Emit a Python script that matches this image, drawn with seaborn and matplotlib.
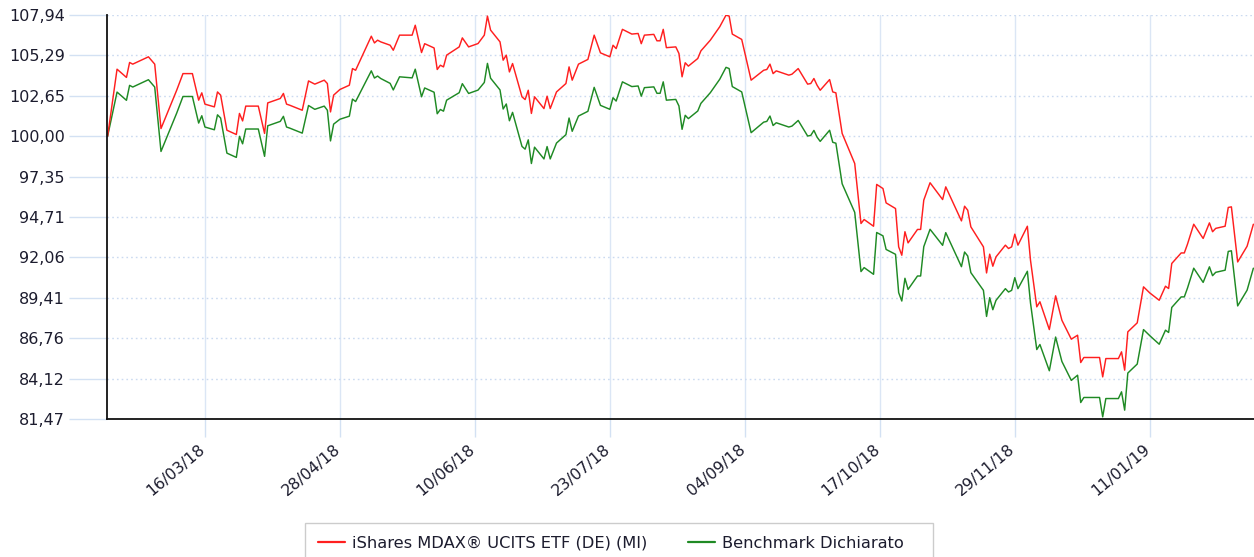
import matplotlib
matplotlib.use("Agg")
import matplotlib.pyplot as plt
import matplotlib.transforms as mtransforms
from matplotlib.lines import Line2D
from matplotlib.patches import Rectangle
import seaborn as sns
import pandas as pd

dates = [
    "2018-02-13", "2018-02-16", "2018-02-19", "2018-02-20", "2018-02-21", "2018-02-26", "2018-02-28",
    "2018-03-02", "2018-03-07", "2018-03-09", "2018-03-12", "2018-03-14", "2018-03-15", "2018-03-16",
    "2018-03-19", "2018-03-20", "2018-03-21", "2018-03-23", "2018-03-26", "2018-03-27", "2018-03-28",
    "2018-03-29", "2018-04-02", "2018-04-04", "2018-04-05", "2018-04-09", "2018-04-10", "2018-04-11",
    "2018-04-12", "2018-04-16", "2018-04-18", "2018-04-20", "2018-04-23", "2018-04-24", "2018-04-25",
    "2018-04-26", "2018-04-28", "2018-05-01", "2018-05-02", "2018-05-03", "2018-05-08", "2018-05-09",
    "2018-05-10", "2018-05-11", "2018-05-14", "2018-05-15", "2018-05-17", "2018-05-21", "2018-05-22",
    "2018-05-24", "2018-05-25", "2018-05-28", "2018-05-29", "2018-05-30", "2018-05-31", "2018-06-01",
    "2018-06-05", "2018-06-06", "2018-06-08", "2018-06-11", "2018-06-13", "2018-06-14", "2018-06-15",
    "2018-06-18", "2018-06-19", "2018-06-20", "2018-06-21", "2018-06-22", "2018-06-25", "2018-06-26",
    "2018-06-27", "2018-06-28", "2018-06-29", "2018-07-02", "2018-07-03", "2018-07-04", "2018-07-06",
    "2018-07-09", "2018-07-10", "2018-07-11", "2018-07-13", "2018-07-16", "2018-07-18", "2018-07-20",
    "2018-07-23", "2018-07-24", "2018-07-25", "2018-07-27", "2018-07-30", "2018-08-01", "2018-08-02",
    "2018-08-03", "2018-08-06", "2018-08-07", "2018-08-08", "2018-08-09", "2018-08-10", "2018-08-13",
    "2018-08-14", "2018-08-15", "2018-08-16", "2018-08-17", "2018-08-20", "2018-08-21", "2018-08-24",
    "2018-08-27", "2018-08-29", "2018-08-30", "2018-08-31", "2018-09-03", "2018-09-06", "2018-09-10",
    "2018-09-11", "2018-09-12", "2018-09-13", "2018-09-14", "2018-09-18", "2018-09-19", "2018-09-21",
    "2018-09-24", "2018-09-25", "2018-09-26", "2018-09-27", "2018-09-28", "2018-10-01", "2018-10-02",
    "2018-10-03", "2018-10-05", "2018-10-09", "2018-10-11", "2018-10-12", "2018-10-15", "2018-10-16",
    "2018-10-18", "2018-10-19", "2018-10-22", "2018-10-23", "2018-10-24", "2018-10-25", "2018-10-26",
    "2018-10-29", "2018-10-30", "2018-10-31", "2018-11-02", "2018-11-06", "2018-11-07", "2018-11-12",
    "2018-11-13", "2018-11-14", "2018-11-15", "2018-11-19", "2018-11-20", "2018-11-21", "2018-11-22",
    "2018-11-23", "2018-11-26", "2018-11-27", "2018-11-28", "2018-11-29", "2018-11-30", "2018-12-03",
    "2018-12-04", "2018-12-06", "2018-12-07", "2018-12-10", "2018-12-12", "2018-12-14", "2018-12-17",
    "2018-12-19", "2018-12-20", "2018-12-21", "2018-12-26", "2018-12-27", "2018-12-28", "2019-01-01",
    "2019-01-02", "2019-01-03", "2019-01-04", "2019-01-07", "2019-01-09", "2019-01-11", "2019-01-14",
    "2019-01-16", "2019-01-17", "2019-01-18", "2019-01-21", "2019-01-22", "2019-01-23", "2019-01-25",
    "2019-01-28", "2019-01-30", "2019-01-31", "2019-02-01", "2019-02-04", "2019-02-05", "2019-02-06",
    "2019-02-08", "2019-02-11", "2019-02-13",
]

etf = [
    100.00, 104.39, 103.85, 104.83, 104.72, 105.20, 104.72,
    100.50, 103.01, 104.10, 104.10, 102.36, 102.84, 102.10,
    101.92, 102.90, 102.69, 100.39, 100.11, 101.49, 101.00,
    101.97, 101.97, 100.18, 102.18, 102.47, 102.80, 102.10,
    102.03, 101.70, 103.62, 103.41, 103.67, 103.45, 101.59,
    102.69, 103.06, 103.34, 104.43, 104.32, 106.55, 106.11,
    106.29, 106.18, 105.96, 105.63, 106.62, 106.62, 107.27,
    105.48, 106.06, 105.78, 104.37, 104.65, 104.54, 105.31,
    105.85, 106.44, 105.85, 106.07, 106.62, 107.87, 106.95,
    106.18, 104.98, 105.31, 104.21, 104.76, 102.58, 102.40,
    103.01, 101.49, 102.58, 101.81, 102.62, 101.81, 102.90,
    103.45, 104.54, 103.67, 104.72, 105.03, 106.62, 105.46,
    105.20, 105.96, 105.74, 107.00, 106.69, 106.73, 106.06,
    106.62, 106.67, 106.25, 106.25, 107.00, 105.80, 105.85,
    105.42, 103.89, 104.81, 104.59, 105.09, 105.59, 106.29,
    107.17, 107.93, 107.87, 106.69, 106.34, 103.67, 104.32,
    104.37, 104.72, 104.10, 104.28, 104.00, 104.06, 104.43,
    103.41, 103.45, 103.78, 103.34, 103.01, 103.71, 102.90,
    102.84, 100.18, 98.21, 94.28, 94.54, 94.10, 96.84,
    96.57, 95.63, 95.26, 92.75, 92.20, 93.74, 93.01,
    93.89, 93.89, 95.81, 96.95, 95.85, 96.68, 94.45,
    95.41, 95.15, 94.06, 92.75, 91.04, 92.27, 91.48,
    92.09, 92.86, 92.64, 92.75, 93.58, 92.86, 94.10,
    91.87, 88.82, 89.15, 87.33, 89.54, 87.94, 86.70,
    86.96, 85.17, 85.50, 85.50, 84.23, 85.43, 85.43,
    85.87, 84.67, 87.18, 87.77, 90.13, 89.73, 89.25,
    90.17, 90.02, 91.66, 92.35, 92.35, 92.92, 94.23,
    93.30, 94.32, 93.74, 93.96, 94.10, 95.33, 95.37,
    91.76, 92.79, 94.23,
]

benchmark = [
    100.00, 102.89, 102.35, 103.33, 103.22, 103.70, 103.22,
    99.00, 101.51, 102.60, 102.60, 100.86, 101.34, 100.60,
    100.42, 101.40, 101.19, 98.89, 98.61, 99.99, 99.50,
    100.47, 100.47, 98.68, 100.68, 100.97, 101.30, 100.60,
    100.53, 100.20, 102.01, 101.76, 101.97, 101.70, 99.69,
    100.79, 101.11, 101.31, 102.43, 102.27, 104.28, 103.81,
    103.94, 103.78, 103.46, 103.03, 103.89, 103.82, 104.39,
    102.58, 103.16, 102.88, 101.47, 101.75, 101.64, 102.36,
    102.85, 103.44, 102.80, 103.02, 103.52, 104.77, 103.80,
    103.03, 101.78, 102.11, 101.01, 101.56, 99.33, 99.15,
    99.76, 98.21, 99.28, 98.51, 99.32, 98.51, 99.55,
    100.10, 101.19, 100.32, 101.32, 101.63, 103.20, 102.02,
    101.76, 102.52, 102.30, 103.56, 103.25, 103.29, 102.62,
    103.18, 103.23, 102.81, 102.81, 103.56, 102.36, 102.41,
    101.98, 100.45, 101.37, 101.15, 101.65, 102.15, 102.85,
    103.73, 104.51, 104.43, 103.25, 102.90, 100.23, 100.92,
    100.97, 101.32, 100.70, 100.88, 100.60, 100.66, 101.03,
    100.01, 100.05, 100.38, 99.94, 99.66, 100.39, 99.60,
    99.54, 96.88, 95.01, 91.13, 91.39, 90.95, 93.69,
    93.47, 92.58, 92.26, 89.75, 89.20, 90.69, 89.96,
    90.84, 90.84, 92.76, 93.90, 92.85, 93.68, 91.45,
    92.41, 92.15, 91.06, 89.90, 88.19, 89.42, 88.63,
    89.24, 90.01, 89.79, 89.90, 90.73, 90.01, 91.15,
    89.07, 86.02, 86.35, 84.63, 86.84, 85.24, 84.00,
    84.34, 82.55, 82.88, 82.88, 81.61, 82.81, 82.81,
    83.25, 82.05, 84.48, 85.07, 87.33, 86.93, 86.37,
    87.29, 87.14, 88.78, 89.47, 89.47, 90.04, 91.35,
    90.42, 91.44, 90.86, 91.08, 91.22, 92.45, 92.49,
    88.88, 89.91, 91.35,
]

series_names = ["iShares MDAX® UCITS ETF (DE) (MI)", "Benchmark Dichiarato"]
series_colors = ["#ff1f1f", "#1f8a24"]

y_ticks = [81.47, 84.12, 86.76, 89.41, 92.06, 94.71, 97.35, 100.00, 102.65, 105.29, 107.94]
y_tick_labels = ["81,47", "84,12", "86,76", "89,41", "92,06", "94,71", "97,35",
                 "100,00", "102,65", "105,29", "107,94"]
x_tick_dates = ["2018-03-16", "2018-04-28", "2018-06-10", "2018-07-23",
                "2018-09-04", "2018-10-17", "2018-11-29", "2019-01-11"]
x_tick_labels = ["16/03/18", "28/04/18", "10/06/18", "23/07/18",
                 "04/09/18", "17/10/18", "29/11/18", "11/01/19"]

sns.set_theme(style="white")
plt.rcParams["font.family"] = ["DejaVu Sans"]

n = len(dates)
df = pd.DataFrame({
    "date": pd.to_datetime(dates + dates),
    "value": etf + benchmark,
    "series": [series_names[0]] * n + [series_names[1]] * n,
})

W, H = 1254, 557
fig = plt.figure(figsize=(W / 100, H / 100), dpi=100)
ax = fig.add_axes([107 / W, 1 - 419 / H, 1 - 107 / W, (419 - 15) / H])

sns.lineplot(data=df, x="date", y="value", hue="series",
             hue_order=series_names[::-1], palette=series_colors[::-1],
             estimator=None, linewidth=1.05, ax=ax, legend=False)

base = pd.Timestamp("2018-03-16")
ax.set_xlim(base + pd.Timedelta(days=-31.2), base + pd.Timedelta(days=334.2))
ax.set_ylim(81.47, 107.94)
ax.set_xlabel("")
ax.set_ylabel("")

ax.set_yticks(y_ticks)
ax.set_yticklabels(y_tick_labels)
ax.set_xticks(pd.to_datetime(x_tick_dates))
ax.set_xticklabels(x_tick_labels)

grid_blue = "#d3e1f3"
ax.set_axisbelow(True)
ax.yaxis.grid(True, linestyle=(0, (1.2, 2.2)), color="#cbdaf0", linewidth=1.0)
ax.xaxis.grid(True, linestyle="-", color="#dbe6f5", linewidth=1.0)

label_color = "#1c1c2e"
ax.tick_params(axis="y", which="major", length=27.5, width=1, color=grid_blue,
               pad=2.8, labelsize=11.5, labelcolor=label_color, left=True)
ax.tick_params(axis="x", which="major", length=13, width=1, color=grid_blue,
               pad=2.5, labelsize=11.3, labelcolor=label_color, bottom=True)
shift = mtransforms.ScaledTranslation(-0.065, -0.01, fig.dpi_scale_trans)
for lbl in ax.get_xticklabels():
    lbl.set_rotation(40)
    lbl.set_ha("right")
    lbl.set_va("top")
    lbl.set_rotation_mode("anchor")
    lbl.set_transform(lbl.get_transform() + shift)

for side in ["top", "right"]:
    ax.spines[side].set_visible(False)
for side in ["left", "bottom"]:
    ax.spines[side].set_color("#111111")
    ax.spines[side].set_linewidth(1.3)

# legend box drawn as a figure rectangle, entries via fig.legend
fig.patches.append(Rectangle((305 / W, -0.01), 628 / W, (557 - 523) / H + 0.01,
                             transform=fig.transFigure, fill=False,
                             edgecolor="#cccccc", linewidth=1.0))
handles = [Line2D([0], [0], color=c, lw=1.6) for c in series_colors]
fs = 11.7
leg = fig.legend(handles, series_names, loc="upper left",
                 bbox_to_anchor=(305 / W, 1 - 523 / H), ncol=2, frameon=False,
                 fontsize=fs, handlelength=1.66, handletextpad=0.45,
                 columnspacing=2.5, borderpad=0.8, borderaxespad=0.0)
for t in leg.get_texts():
    t.set_color(label_color)

fig.savefig("out.png", dpi=100)
